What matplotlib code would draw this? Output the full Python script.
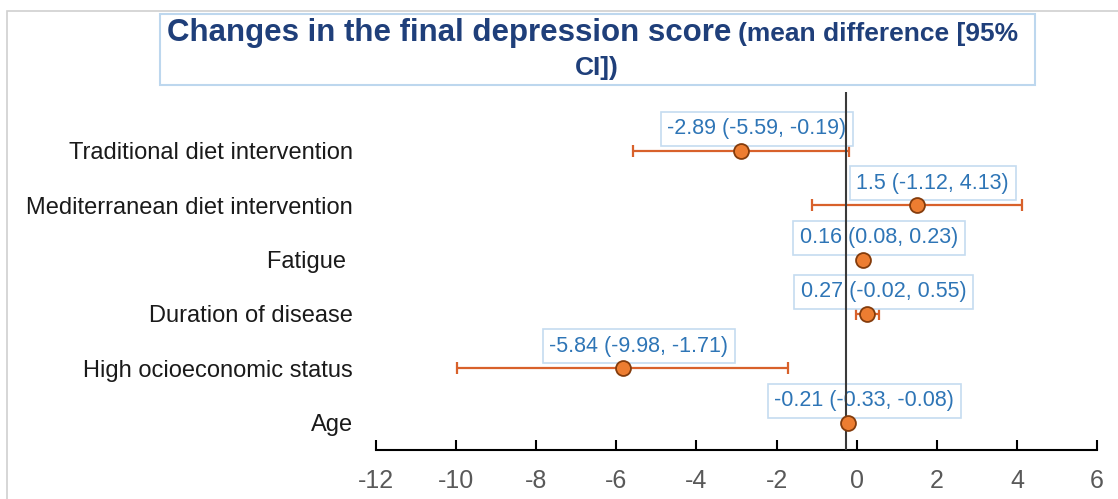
import numpy as np
import matplotlib
matplotlib.use("Agg")
import matplotlib.pyplot as plt
from matplotlib.patches import Rectangle

plt.rcParams['font.family'] = ['Liberation Sans', 'DejaVu Sans']

# Data
categories = ["Traditional diet intervention", "Mediterranean diet intervention",
              "Fatigue ", "Duration of disease", "High ocioeconomic status", "Age"]
mean_diff = [-2.89, 1.5, 0.16, 0.27, -5.84, -0.21]
ci_low = [-5.59, -1.12, 0.08, -0.02, -9.98, -0.33]
ci_high = [-0.19, 4.13, 0.23, 0.55, -1.71, -0.08]
point_labels = ["-2.89 (-5.59, -0.19)", "1.5 (-1.12, 4.13)", "0.16 (0.08, 0.23)",
                "0.27 (-0.02, 0.55)", "-5.84 (-9.98, -1.71)", "-0.21 (-0.33, -0.08)"]
x_ticks = [-12, -10, -8, -6, -4, -2, 0, 2, 4, 6]
ref_line = -0.27

W, H = 1118, 499
fig = plt.figure(figsize=(W / 100, H / 100), dpi=100)

# outer frame
fig.patches.append(Rectangle((7 / W, -0.1), 1.2, 1 - 11 / H + 0.1, transform=fig.transFigure,
                             fill=False, edgecolor='#D0D0D0', lw=1.2))

ax = fig.add_axes([376 / W, 1 - 450 / H, (1097 - 376) / W, (450 - 92) / H])

y = np.arange(len(categories), 0, -1)
md = np.array(mean_diff)
err = np.vstack([md - np.array(ci_low), np.array(ci_high) - md])

ax.errorbar(md, y, xerr=err, fmt='none', ecolor='#D8612B', elinewidth=1.6,
            capsize=4.5, capthick=1.6, zorder=2)

for xi, yi, lab in zip(md, y, point_labels):
    ax.annotate(lab, (xi, yi), xytext=(16, 22), textcoords='offset pixels',
                ha='center', va='center', fontsize=15.5, color='#2E75B6', zorder=3,
                bbox=dict(boxstyle='square,pad=0.3', facecolor='white',
                          edgecolor='#C5DCF0', lw=1.2))

# reference line sits on top of the label boxes, like the original
ax.axvline(ref_line, color='#3a3a3a', lw=1.5, zorder=4)
ax.scatter(md, y, s=115, facecolor='#ED7D31', edgecolor='#843C0C', lw=1.3, zorder=5)

ax.set_xlim(-12, 6)
ax.set_ylim(0.5, 7.08)
ax.set_xticks(x_ticks)
ax.set_xticklabels([str(t) for t in x_ticks])
ax.set_yticks(y)
ax.set_yticklabels(categories)
for s in ['top', 'right', 'left']:
    ax.spines[s].set_visible(False)
ax.spines['bottom'].set_linewidth(1.5)
ax.tick_params(axis='x', direction='in', length=7, width=1.5, labelsize=18,
               labelcolor='#595959', pad=14)
ax.tick_params(axis='y', length=0, labelsize=17, labelcolor='#1a1a1a', pad=16.5)

# title box
fig.patches.append(Rectangle((160 / W, 1 - 85 / H), (1035 - 160) / W, (85 - 14) / H,
                             transform=fig.transFigure, facecolor='white',
                             edgecolor='#BDD7EE', lw=1.5))
t1 = fig.text(167 / W, 1 - 33 / H, "Changes in the final depression score",
              fontsize=22.5, fontweight='bold', color='#1F3F7A', va='center', ha='left')
fig.canvas.draw()
bb = t1.get_window_extent()
fig.text((bb.x1 + 7) / W, 1 - 34 / H, "(mean difference [95%",
         fontsize=19, fontweight='bold', color='#1F3F7A', va='center', ha='left')
fig.text(597 / W, 1 - 68 / H, "CI])", fontsize=19, fontweight='bold',
         color='#1F3F7A', va='center', ha='center')

fig.savefig("out.png", dpi=100)
